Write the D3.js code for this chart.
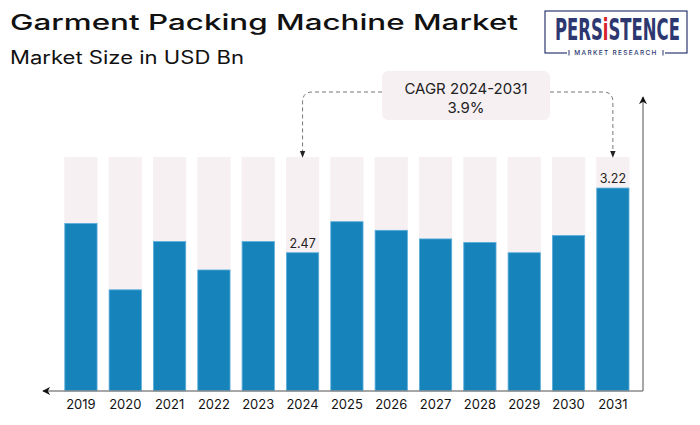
<!DOCTYPE html>
<html>
<head>
<meta charset="utf-8">
<script src="https://cdn.jsdelivr.net/npm/d3@7"></script>
<style>
  body { margin: 0; background: #fff; }
  svg { display: block; font-family: Inter, "Open Sans", sans-serif; }
</style>
</head>
<body>
<svg id="chart" width="700" height="425"></svg>
<script>
// data
var years = ["2019", "2020", "2021", "2022", "2023", "2024", "2025", "2026", "2027", "2028", "2029", "2030", "2031"];
var marketSize = [2.81, 2.04, 2.60, 2.27, 2.60, 2.47, 2.83, 2.73, 2.63, 2.59, 2.47, 2.67, 3.22];
var labelledYears = ["2024", "2031"];
var cagrText = ["CAGR 2024-2031", "3.9%"];

var svg = d3.select("#chart");

var baseY = 391, topY = 157;

var x = d3.scaleBand().domain(years).range([64.3, 629.5]).paddingInner(0.25).paddingOuter(0);
// value axis does not start at zero in the original
var y = d3.scaleLinear().domain([0.867, 3.58]).range([baseY, topY]);

var defs = svg.append("defs");
defs.append("marker")
  .attr("id", "arr")
  .attr("viewBox", "0 0 10 10")
  .attr("refX", 9).attr("refY", 5)
  .attr("markerWidth", 8).attr("markerHeight", 8)
  .attr("markerUnits", "userSpaceOnUse")
  .attr("orient", "auto")
  .append("path").attr("d", "M0,0 L10,5 L0,10 L3,5 Z").attr("fill", "#111");
defs.append("marker")
  .attr("id", "arrSmall")
  .attr("viewBox", "0 0 10 10")
  .attr("refX", 9).attr("refY", 5)
  .attr("markerWidth", 7).attr("markerHeight", 7)
  .attr("markerUnits", "userSpaceOnUse")
  .attr("orient", "auto")
  .append("path").attr("d", "M0,1 L10,5 L0,9 Z").attr("fill", "#222");

// titles
svg.append("text")
  .attr("x", 10).attr("y", 30)
  .attr("font-size", 21.5).attr("font-weight", 500).attr("fill", "#111")
  .attr("textLength", 508).attr("lengthAdjust", "spacingAndGlyphs")
  .text("Garment Packing Machine Market");
svg.append("text")
  .attr("x", 10).attr("y", 63.5)
  .attr("font-size", 18).attr("font-weight", 400).attr("fill", "#111")
  .attr("textLength", 234).attr("lengthAdjust", "spacingAndGlyphs")
  .text("Market Size in USD Bn");

// logo
var navy = "#2d3770";
var logo = svg.append("g");
logo.append("rect")
  .attr("x", 545).attr("y", 11).attr("width", 142).attr("height", 42)
  .attr("fill", "none").attr("stroke", navy).attr("stroke-width", 1.2);
logo.append("rect")
  .attr("x", 567).attr("y", 48).attr("width", 98).attr("height", 9).attr("fill", "#fff");
logo.append("line").attr("x1", 569).attr("x2", 569).attr("y1", 50).attr("y2", 55.5).attr("stroke", navy).attr("stroke-width", 1);
logo.append("line").attr("x1", 663).attr("x2", 663).attr("y1", 50).attr("y2", 55.5).attr("stroke", navy).attr("stroke-width", 1);

// brand word built from pieces, then squeezed to fit the frame
var brandParts = [["PERS", navy], ["i", "#d6202a"], ["STENCE", navy]];
var brand = logo.append("g");
var bx = 0;
brandParts.forEach(function(p) {
  var t = brand.append("text")
    .attr("x", bx).attr("y", 0)
    .attr("font-family", "'Liberation Sans Narrow', 'DejaVu Sans Condensed', sans-serif")
    .attr("font-size", 31).attr("font-weight", 700).attr("fill", p[1])
    .text(p[0]);
  bx += t.node().getComputedTextLength();
});
brand.attr("transform", "translate(555,40) scale(" + (125 / bx) + ",1)");

logo.append("text")
  .attr("x", 616).attr("y", 55).attr("text-anchor", "middle")
  .attr("font-size", 6.5).attr("font-weight", 500).attr("fill", navy)
  .attr("letter-spacing", 1.3)
  .text("MARKET RESEARCH");

// background columns
svg.append("g").selectAll("rect")
  .data(years)
  .join("rect")
  .attr("x", function(d) { return x(d); })
  .attr("y", y(y.domain()[1]))
  .attr("width", x.bandwidth())
  .attr("height", baseY - y(y.domain()[1]))
  .attr("fill", "#f6f0f3");

// value bars
svg.append("g").selectAll("rect")
  .data(marketSize)
  .join("rect")
  .attr("x", function(d, i) { return x(years[i]) + 0.5; })
  .attr("y", function(d) { return y(d); })
  .attr("width", x.bandwidth() - 1)
  .attr("height", function(d) { return baseY - y(d); })
  .attr("fill", "#1684bb")
  .attr("stroke", "#5aaedc").attr("stroke-width", 0.8);

// value labels
svg.append("g").selectAll("text")
  .data(labelledYears)
  .join("text")
  .attr("x", function(d) { return x(d) + x.bandwidth() / 2; })
  .attr("y", function(d) { return y(marketSize[years.indexOf(d)]) - 5; })
  .attr("text-anchor", "middle")
  .attr("font-size", 12.5).attr("fill", "#222")
  .text(function(d) { return marketSize[years.indexOf(d)].toFixed(2); });

// axes
svg.append("line")
  .attr("x1", 643).attr("y1", baseY).attr("x2", 43).attr("y2", baseY)
  .attr("stroke", "#8a8a8a").attr("stroke-width", 1.5)
  .attr("marker-end", "url(#arr)");
svg.append("line")
  .attr("x1", 643).attr("y1", baseY).attr("x2", 643).attr("y2", 97)
  .attr("stroke", "#8a8a8a").attr("stroke-width", 1.5)
  .attr("marker-end", "url(#arr)");

var xAxis = svg.append("g")
  .attr("transform", "translate(0," + baseY + ")")
  .call(d3.axisBottom(x).tickSize(0).tickPadding(9));
xAxis.select(".domain").remove();
xAxis.selectAll("text")
  .attr("font-size", 13).attr("fill", "#111")
  .attr("font-family", "Inter, 'Open Sans', sans-serif");

// CAGR call-out
var boxX = 382, boxY = 71, boxW = 168, boxH = 49;
var lineY = 92, r = 10, arrowEnd = 157;
var leftX = x("2024") + x.bandwidth() / 2;
var rightX = x("2031") + x.bandwidth() / 2;

svg.append("path")
  .attr("d", "M" + boxX + "," + lineY + " L" + (leftX + r) + "," + lineY +
    " Q" + leftX + "," + lineY + " " + leftX + "," + (lineY + r) + " L" + leftX + "," + arrowEnd)
  .attr("fill", "none").attr("stroke", "#777").attr("stroke-width", 1)
  .attr("stroke-dasharray", "4,3").attr("marker-end", "url(#arrSmall)");
svg.append("path")
  .attr("d", "M" + (boxX + boxW) + "," + lineY + " L" + (rightX - r) + "," + lineY +
    " Q" + rightX + "," + lineY + " " + rightX + "," + (lineY + r) + " L" + rightX + "," + arrowEnd)
  .attr("fill", "none").attr("stroke", "#777").attr("stroke-width", 1)
  .attr("stroke-dasharray", "4,3").attr("marker-end", "url(#arrSmall)");

svg.append("rect")
  .attr("x", boxX).attr("y", boxY).attr("width", boxW).attr("height", boxH)
  .attr("rx", 6).attr("fill", "#f6f0f3");
svg.append("g").selectAll("text")
  .data(cagrText)
  .join("text")
  .attr("x", boxX + boxW / 2)
  .attr("y", function(d, i) { return 94 + i * 19; })
  .attr("text-anchor", "middle")
  .attr("font-size", 15).attr("fill", "#222")
  .text(function(d) { return d; });
</script>
</body>
</html>
